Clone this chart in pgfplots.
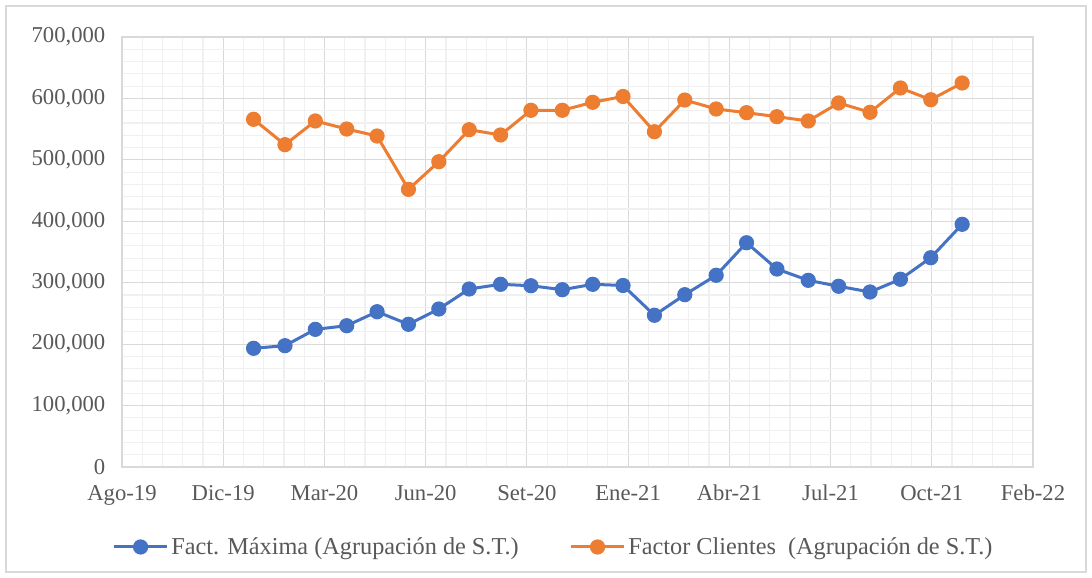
\documentclass[border=0pt]{standalone}
\usepackage{pgfplots}
\pgfplotsset{compat=1.18}
\usepackage{fontspec}
\setmainfont{Liberation Serif}
\definecolor{cblue}{HTML}{4472C4}
\definecolor{corange}{HTML}{ED7D31}
\definecolor{majgrid}{HTML}{D9D9D9}
\definecolor{mingrid}{HTML}{F0F0F0}
\definecolor{txtgray}{HTML}{595959}
\newcommand{\chartfont}{\fontsize{17}{20}\selectfont}
\newcommand{\legfont}{\fontsize{18.2}{21}\selectfont}
\begin{document}
\begin{tikzpicture}
\begin{axis}[
  at={(0,0)}, anchor=south west,
  scale only axis, width=683.25pt, height=322.5pt,
  xmin=0, xmax=900, ymin=0, ymax=700000,
  scaled y ticks=false,
  xtick={0,100,...,900},
  xticklabels={Ago-19,Dic-19,Mar-20,Jun-20,Set-20,Ene-21,Abr-21,Jul-21,Oct-21,Feb-22},
  ytick={0,100000,...,700000},
  yticklabels={0,{100,000},{200,000},{300,000},{400,000},{500,000},{600,000},{700,000}},
  minor x tick num=4, minor y tick num=4,
  grid=both,
  major grid style={majgrid, line width=0.9pt},
  minor grid style={mingrid, line width=0.9pt},
  axis line style={majgrid, line width=0.9pt},
  major tick length=0pt, minor tick length=0pt,
  tick label style={font=\chartfont, text=txtgray},
  xticklabel style={yshift=-10pt},
  yticklabel style={xshift=-9pt},
  legend style={draw=none, font=\legfont, text=txtgray,
    at={(0.474,-0.186)}, anchor=center, legend columns=2,
    /tikz/every even column/.append style={column sep=36pt}},
  legend image code/.code={\draw[#1, mark repeat=2, mark phase=2] plot coordinates {(0pt,0pt)(20pt,0pt)(40pt,0pt)};},
]
\addplot[cblue, line width=2.25pt, mark=*, mark size=5.3pt, mark options={fill=cblue, draw=cblue, line width=0.8pt}] coordinates {
(130,193200)(161,197500)(191,224100)(222,230000)(252,252800)(283,232300)
(313,257200)(343,289800)(374,297400)(404,295100)(435,288600)(465,297400)
(495,295500)(526,247000)(556,280500)(587,312100)(617,365100)(647,322300)
(678,303900)(708,294200)(739,284900)(769,305600)(799,340700)(830,395100)};
\addlegendentry{Fact. Máxima (Agrupación de S.T.)}
\addplot[corange, line width=2.25pt, mark=*, mark size=5.3pt, mark options={fill=corange, draw=corange, line width=0.8pt}] coordinates {
(130,566000)(161,524700)(191,563300)(222,550200)(252,538800)(283,452000)
(313,497000)(343,549100)(374,540500)(404,580700)(435,580700)(465,593700)
(495,603200)(526,545800)(556,597400)(587,582800)(617,576800)(647,570300)
(678,563300)(708,592600)(739,577400)(769,617000)(799,597900)(830,625100)};
\addlegendentry{Factor Clientes\ \ (Agrupación de S.T.)}
\end{axis}
\draw[majgrid, line width=0.9pt] (-87pt,-78.75pt) rectangle (723pt,345.75pt);
\path[use as bounding box] (-91.5pt,-83.25pt) rectangle (727.5pt,350.25pt);
\end{tikzpicture}
\end{document}
